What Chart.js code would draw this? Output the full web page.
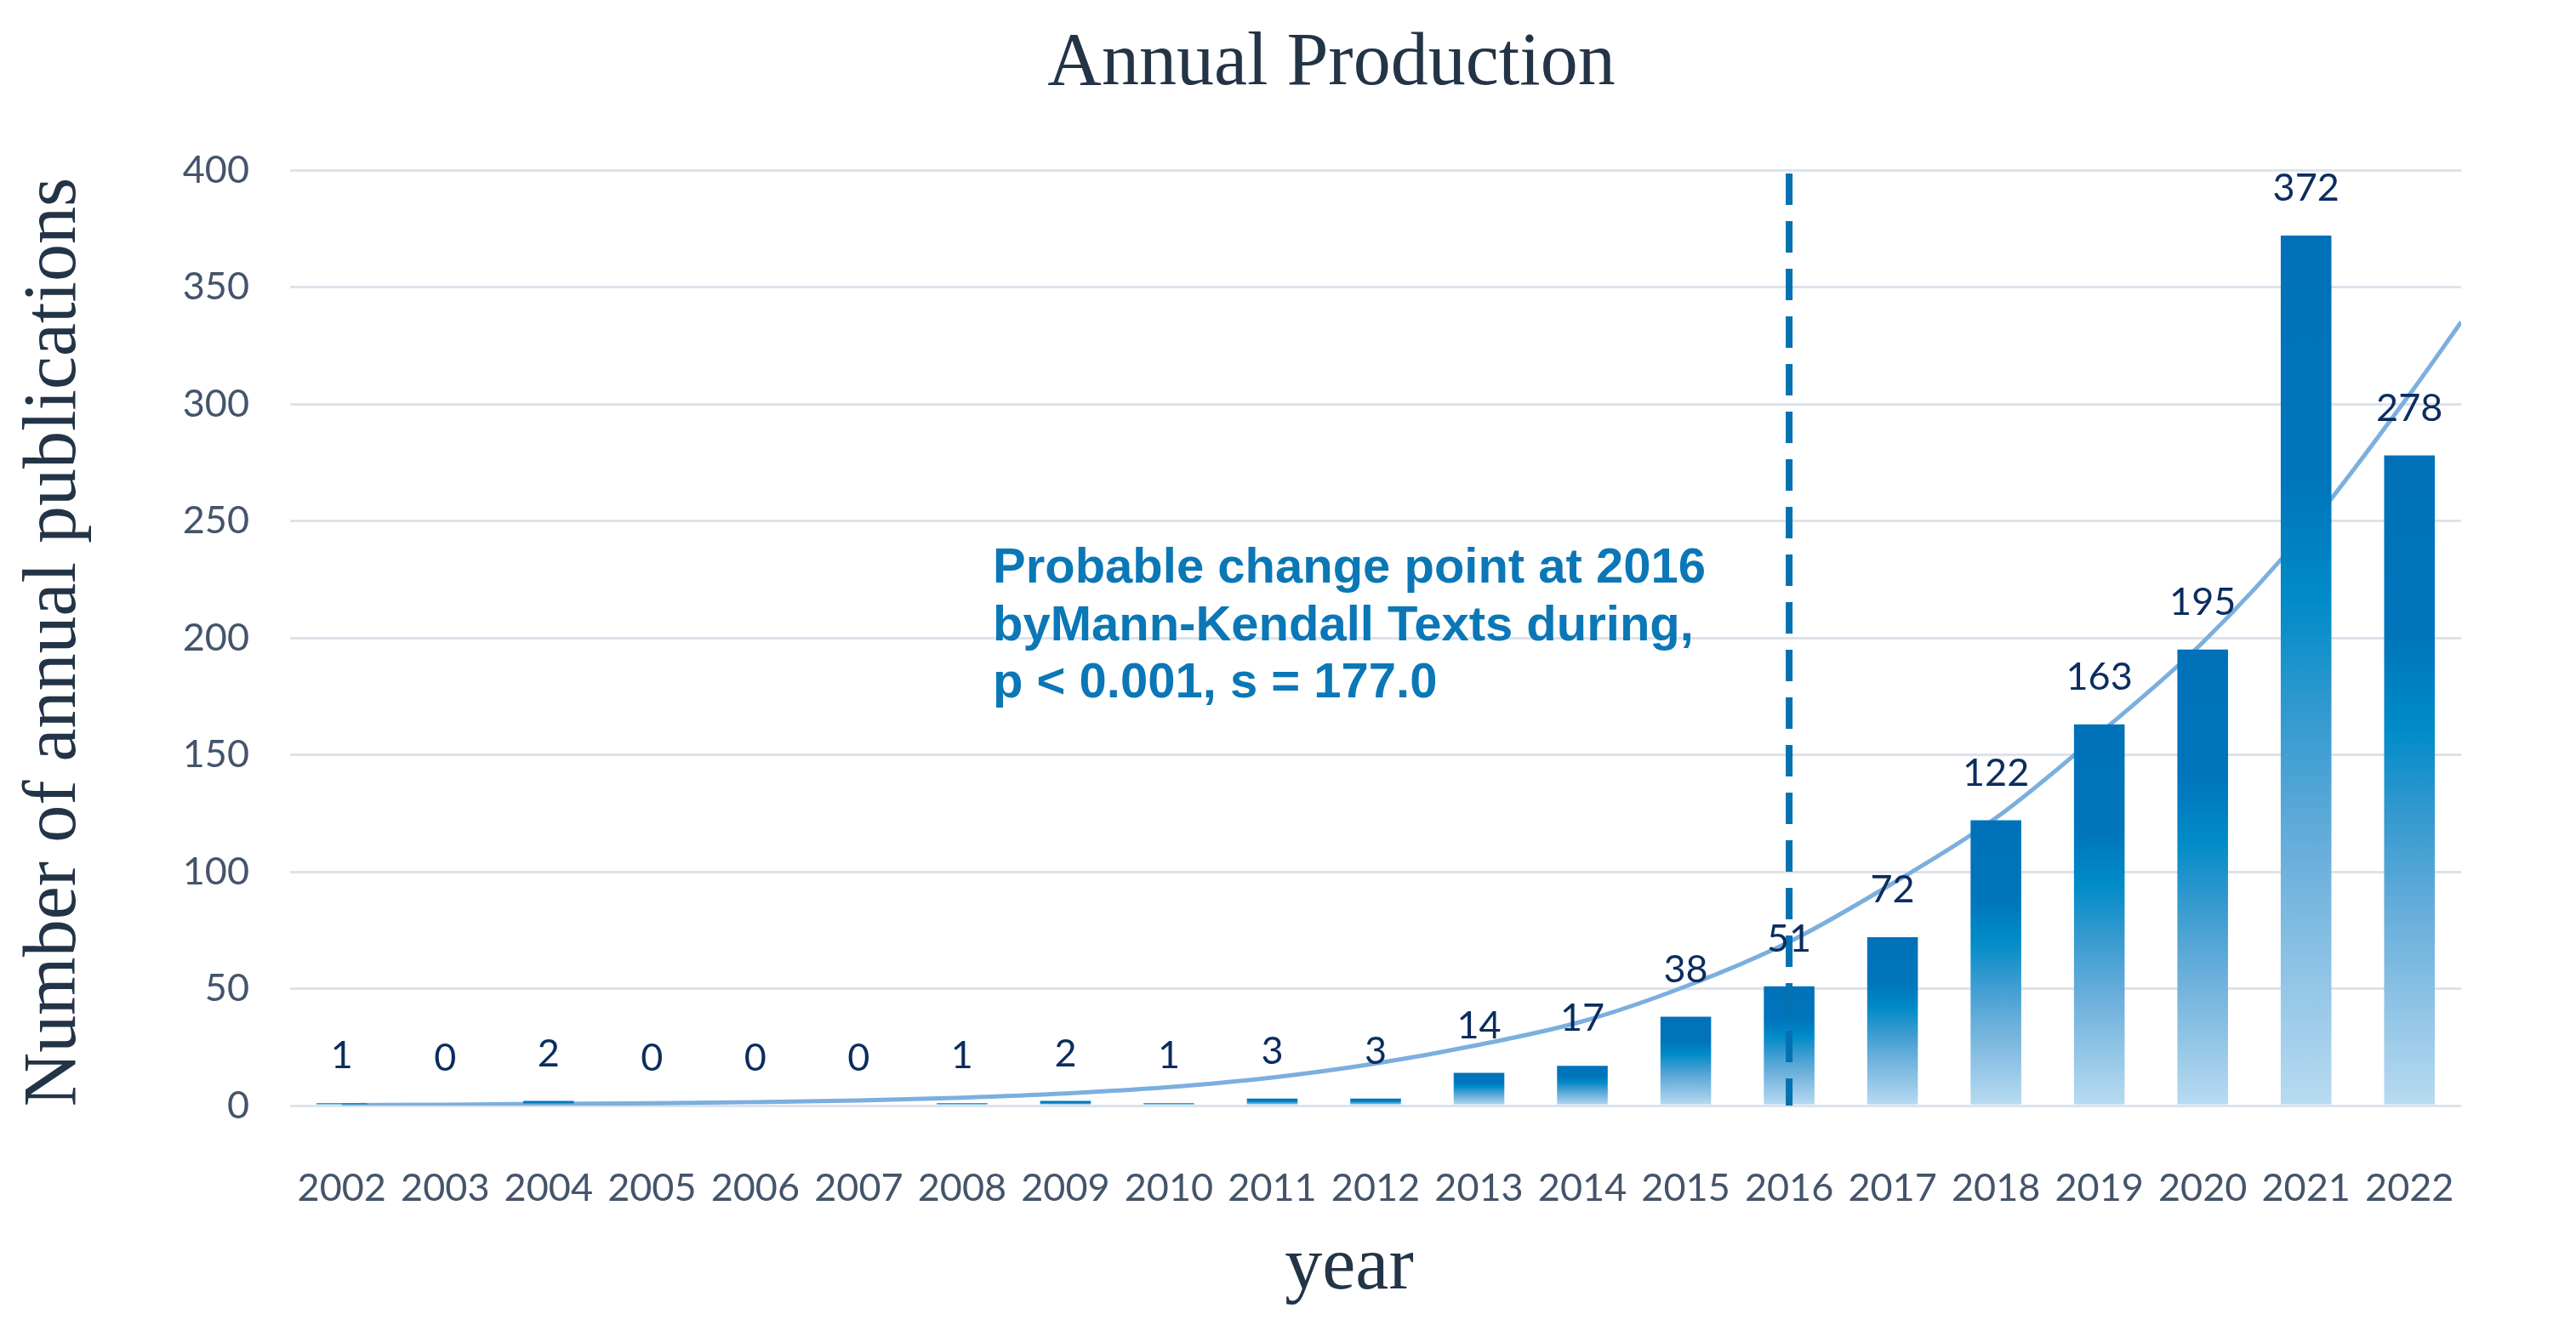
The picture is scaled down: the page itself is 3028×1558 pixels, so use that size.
<!DOCTYPE html>
<html>
<head>
<meta charset="utf-8">
<script src="https://cdn.jsdelivr.net/npm/chart.js@4.4.1/dist/chart.umd.min.js"></script>
<style>
  body { margin: 0; background: #ffffff; }
  canvas { display: block; }
</style>
</head>
<body>
<canvas id="chart" width="3028" height="1558"></canvas>
<script>
// datos
const years = ["2002", "2003", "2004", "2005", "2006", "2007", "2008", "2009", "2010", "2011", "2012",
  "2013", "2014", "2015", "2016", "2017", "2018", "2019", "2020", "2021", "2022"];
const publications = [1, 0, 2, 0, 0, 0, 1, 2, 1, 3, 3, 14, 17, 38, 51, 72, 122, 163, 195, 372, 278];

// linea de tendencia, continua media categoria despues de 2022
const trendYears = [2002, 2003, 2004, 2005, 2006, 2007, 2008, 2009, 2010, 2011, 2012,
  2013, 2014, 2015, 2016, 2017, 2018, 2019, 2020, 2021, 2022, 2022.5];
const trendValues = [0.2, 0.4, 0.7, 1.0, 1.5, 2.2, 3.4, 5.2, 7.9, 12, 18,
  26, 36, 51, 70, 95, 123, 159, 198, 246, 304, 335];

const yTicks = [0, 50, 100, 150, 200, 250, 300, 350, 400];
const changeYear = "2016";
const noteLines = ["Probable change point at 2016", "byMann-Kendall Texts during,", "p < 0.001, s = 177.0"];

const tickColor = "#44546A";
const labelColor = "#0B2D5E";
const serif = "'Liberation Serif', 'DejaVu Serif', serif";

function barGradient(context) {
    const chart = context.chart;
    const v = context.raw;
    if (!chart.chartArea || !v) return "#0071B9";
    const y = chart.scales.y;
    const top = y.getPixelForValue(v);
    const base = y.getPixelForValue(0);
    const g = chart.ctx.createLinearGradient(0, top, 0, base);
    g.addColorStop(0, "#0071B9");
    g.addColorStop(0.28, "#0075BC");
    g.addColorStop(0.42, "#008BC8");
    g.addColorStop(0.55, "#3399CF");
    g.addColorStop(0.72, "#6CB0DC");
    g.addColorStop(1, "#B8DBF1");
    return g;
}

// linea discontinua en el punto de cambio
const changeLine = {
    id: "changeLine",
    afterDatasetsDraw(chart) {
        const ctx = chart.ctx;
        const x = chart.scales.x.getPixelForValue(years.indexOf(changeYear));
        const top = chart.scales.y.getPixelForValue(400) + 4;
        const bottom = chart.scales.y.getPixelForValue(0);
        ctx.save();
        ctx.strokeStyle = "#0571B0";
        ctx.lineWidth = 8;
        ctx.setLineDash([37, 19]);
        ctx.beginPath();
        ctx.moveTo(x, top);
        ctx.lineTo(x, bottom);
        ctx.stroke();
        ctx.restore();
    }
};

// etiquetas de valor encima de cada barra
const valueLabels = {
    id: "valueLabels",
    afterDraw(chart) {
        const ctx = chart.ctx;
        const meta = chart.getDatasetMeta(0);
        ctx.save();
        ctx.font = "45px Lato";
        ctx.fillStyle = labelColor;
        ctx.textAlign = "center";
        ctx.textBaseline = "alphabetic";
        meta.data.forEach((bar, i) => {
            ctx.fillText(String(publications[i]), bar.x, bar.y - 41);
        });
        ctx.restore();
    }
};

// titulos y nota
const textos = {
    id: "textos",
    afterDraw(chart) {
        const ctx = chart.ctx;
        ctx.save();
        ctx.fillStyle = "#243447";
        ctx.font = "88px " + serif;
        ctx.textAlign = "center";
        ctx.textBaseline = "alphabetic";
        ctx.fillText("Annual Production", 1565, 99);
        ctx.fillText("year", 1586, 1515);

        ctx.save();
        ctx.translate(88, 755);
        ctx.rotate(-Math.PI / 2);
        ctx.fillText("Number of annual publications", 0, 0);
        ctx.restore();

        ctx.fillStyle = "#0B77B6";
        ctx.font = "bold 58px 'Liberation Sans', Arial, sans-serif";
        ctx.textAlign = "left";
        noteLines.forEach((t, i) => ctx.fillText(t, 1167, 685 + i * 67.5));
        ctx.restore();
    }
};

new Chart(document.getElementById("chart"), {
    data: {
        labels: years,
        datasets: [
            {
                type: "bar",
                xAxisID: "x",
                data: publications,
                backgroundColor: barGradient,
                borderWidth: 0,
                grouped: false,
                categoryPercentage: 1,
                barPercentage: 0.49,
                order: 1
            },
            {
                type: "line",
                xAxisID: "xt",
                data: trendYears.map((yr, i) => ({ x: yr, y: trendValues[i] })),
                borderColor: "#7BAFDE",
                borderWidth: 5,
                pointRadius: 0,
                cubicInterpolationMode: "monotone",
                fill: false,
                order: 2
            }
        ]
    },
    options: {
        responsive: false,
        devicePixelRatio: 1,
        animation: false,
        layout: { padding: { top: 200, right: 135, left: 0, bottom: 0 } },
        plugins: {
            legend: { display: false },
            tooltip: { enabled: false },
            title: { display: false }
        },
        scales: {
            x: {
                type: "category",
                grid: { display: false, drawTicks: false },
                border: { display: false },
                ticks: {
                    color: tickColor,
                    font: { family: "Lato", size: 45 },
                    padding: 70,
                    maxRotation: 0,
                    autoSkip: false
                },
                afterFit: s => { s.height = 258; }
            },
            xt: {
                type: "linear",
                display: false,
                offset: false,
                min: 2001.5,
                max: 2022.5
            },
            y: {
                min: 0,
                max: 400,
                afterBuildTicks: s => { s.ticks = yTicks.map(v => ({ value: v })); },
                grid: { color: "#DCE3EC", lineWidth: 3, drawTicks: false },
                border: { display: false },
                ticks: {
                    color: tickColor,
                    font: { family: "Lato", size: 45 },
                    padding: 48
                },
                afterFit: s => { s.width = 341; }
            }
        }
    },
    plugins: [changeLine, valueLabels, textos]
});
</script>
</body>
</html>
